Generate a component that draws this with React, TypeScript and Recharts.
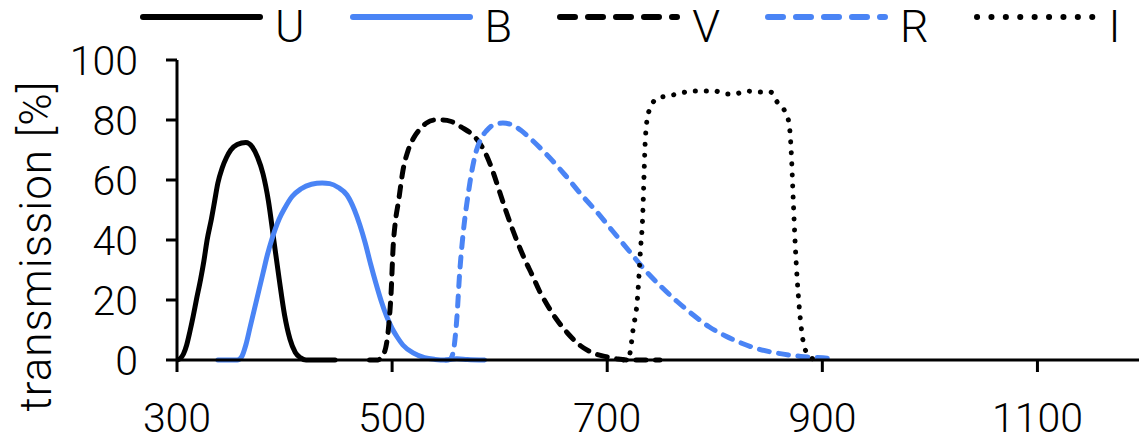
import React from 'react';
import { LineChart, Line, XAxis, YAxis, Legend } from 'recharts';

// ---- data (wavelength in nm, transmission in %) ----
const uWl = [300, 303, 306, 309, 312, 315, 318, 322, 325, 328, 332, 335, 338, 342, 346, 350, 356, 364, 370, 375, 380, 385, 390, 395, 400, 405, 410, 415, 420, 430, 447];
const uT = [0, 0.5, 2, 5, 9.5, 14.5, 20, 27, 33, 40, 47, 53, 59, 64, 67.5, 70, 71.8, 72.5, 71, 67.5, 62, 53, 40, 27, 15, 7, 2.5, 0.7, 0, 0, 0];

const bWl = [338, 356, 360, 364, 368, 372, 376, 380, 384, 388, 395, 400, 407, 415, 425, 435, 442, 450, 458, 465, 470, 475, 480, 485, 490, 495, 500, 505, 510, 520, 530, 540, 550, 560, 570, 586];
const bT = [0, 0, 1, 5, 11, 17, 23, 29, 35, 40, 47, 50.5, 54.5, 57, 58.6, 59, 58.8, 57.5, 55, 50, 45, 39, 32, 25.5, 19.5, 14.5, 10.5, 7.5, 5, 2.3, 0.8, 0.2, 0, 0.4, 0.2, 0];

const vWl = [479, 487, 490, 494, 497, 499, 501, 503, 506, 510, 515, 520, 526, 532, 540, 547, 555, 565, 575, 582, 588, 594, 600, 606, 612, 618, 624, 630, 637, 644, 652, 663, 675, 687, 700, 710, 720, 749];
const vT = [0, 0, 1, 4, 12, 22, 38, 46, 53, 63, 70, 74, 77, 79, 80, 80, 79.5, 77.5, 75, 72, 68, 62.5, 56, 49.5, 43.5, 38, 33, 28.5, 23, 18.5, 14, 9, 4.8, 2.3, 1, 0.3, 0, 0];

const rWl = [550, 554, 557, 560, 563, 566, 571, 577, 583, 588, 595, 603, 612, 620, 631, 645, 660, 675, 690, 705, 720, 735, 750, 765, 780, 795, 810, 825, 840, 858, 880, 905, 912];
const rT = [0, 0.3, 3, 13, 30, 42, 56, 68, 74, 76.5, 78.5, 79, 78.3, 76.5, 73, 68, 62, 55.5, 49.5, 43, 36.5, 30, 24.5, 19.5, 15, 11, 8, 5.6, 3.7, 2.3, 1.2, 0.6, 0.3];

const iWl = [715, 719, 721, 724, 728, 731, 733, 734, 735, 737, 740, 747, 757, 769, 779, 789, 800, 809, 819, 829, 840, 852, 858, 865, 869, 871, 873, 875, 878, 881, 886, 892, 898];
const iT = [0, 0.5, 2, 10, 20, 37, 48, 59, 70, 80, 84, 87.3, 88, 89, 89.7, 89.7, 89.7, 88.7, 88.7, 89.7, 89.3, 89.3, 86, 83, 79, 70, 53, 37, 20, 9, 2, 0.3, 0];

const seriesNames = ['U', 'B', 'V', 'R', 'I'];
const xTicks = [300, 500, 700, 900, 1100];
const yTicks = [0, 20, 40, 60, 80, 100];

const toRows = (wl: number[], t: number[]) => wl.map((w, i) => ({ wl: w, t: t[i] }));

const BLUE = '#4a84f5';
const FONT = 'Roboto, "Liberation Sans", sans-serif';

const styles = [
  { color: '#000', dash: undefined, legendDash: undefined, width: 5 },
  { color: BLUE, dash: undefined, legendDash: undefined, width: 5 },
  { color: '#000', dash: '10 9.5', legendDash: '15 13', width: 5 },
  { color: BLUE, dash: '10 9.5', legendDash: '15 13', width: 5 },
  { color: '#000', dash: '0.1 10.9', legendDash: '0.1 14.3', width: 5 },
];

const seriesData = [toRows(uWl, uT), toRows(bWl, bT), toRows(vWl, vT), toRows(rWl, rT), toRows(iWl, iT)];

const LegendContent = () => (
  <div style={{ display: 'flex', alignItems: 'flex-start', paddingLeft: 140, height: 56 }}>
    {seriesNames.map((name, i) => (
      <div key={name} style={{ display: 'flex', alignItems: 'flex-start', marginRight: 45 }}>
        <svg width={123} height={34} style={{ display: 'block' }}>
          <line x1={3} y1={17} x2={120} y2={17} stroke={styles[i].color} strokeWidth={6}
            strokeLinecap="round" strokeDasharray={styles[i].legendDash} />
        </svg>
        <span style={{ fontFamily: FONT, fontWeight: 300, fontSize: 45, lineHeight: 'normal', marginLeft: 12, marginTop: 0, color: '#000', display: 'block', whiteSpace: 'nowrap' }}>{name}</span>
      </div>
    ))}
  </div>
);

const YLabel = (props: any) => {
  const vb = props.viewBox || { y: 60, height: 300 };
  const cx = 36;
  const cy = vb.y + vb.height / 2 + 36;
  return (
    <text x={cx} y={cy} transform={`rotate(-90 ${cx} ${cy})`} textAnchor="middle" dominantBaseline="central"
      style={{ fontFamily: FONT, fontWeight: 300, fontSize: 44, letterSpacing: 1, fill: '#000' }}>
      transmission [%]
    </text>
  );
};

export default function App() {
  return (
    <div style={{ position: 'absolute', left: 0, top: 0, width: 1139, height: 442, overflow: 'hidden', background: '#fff' }}>
      <LineChart width={1145} height={442} margin={{ top: 60, right: 0, bottom: 0, left: 0 }}>
        <XAxis type="number" dataKey="wl" domain={[300, 1200]} ticks={xTicks} allowDataOverflow
          height={82} tickSize={12} tickMargin={31}
          axisLine={{ stroke: '#000', strokeWidth: 3 }} tickLine={{ stroke: '#000', strokeWidth: 3 }}
          tick={{ fill: '#000', fontFamily: FONT, fontWeight: 300, fontSize: 41 }} />
        <YAxis type="number" domain={[0, 100]} ticks={yTicks} width={177} tickSize={11} tickMargin={28}
          axisLine={{ stroke: '#000', strokeWidth: 3 }} tickLine={{ stroke: '#000', strokeWidth: 3 }}
          tick={{ fill: '#000', fontFamily: FONT, fontWeight: 300, fontSize: 41 }}
          label={<YLabel />} />
        <Legend layout="horizontal" verticalAlign="middle" align="center" content={<LegendContent />}
          wrapperStyle={{ top: 0, left: 0, width: 1139, height: 56 }} />
        {seriesNames.map((name, i) => (
          <Line key={name} name={name} data={seriesData[i]} dataKey="t" type="monotone"
            stroke={styles[i].color} strokeWidth={styles[i].width}
            strokeDasharray={styles[i].dash} strokeLinecap="round" strokeLinejoin="round"
            dot={false} activeDot={false} isAnimationActive={false} />
        ))}
      </LineChart>
    </div>
  );
}
